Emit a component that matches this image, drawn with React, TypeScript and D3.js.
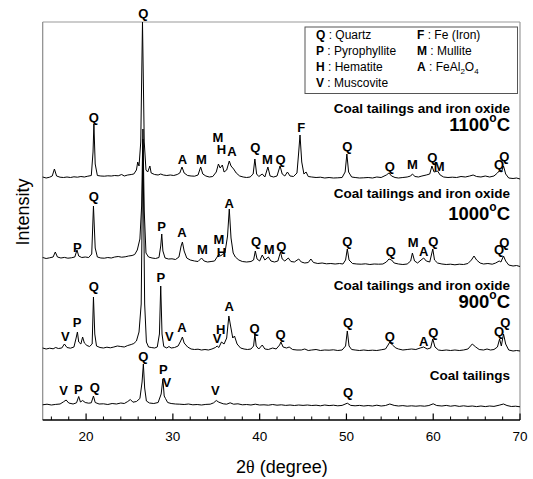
import React from "react";
import * as d3 from "d3";

// XRD patterns, [2theta (deg), intensity (a.u.)]
const coalTailings: [number, number][] = [
  [15.0, 152], [15.5, 158], [16.0, 150], [16.5, 156], [17.0, 160], [17.4, 182], [17.7, 200], [18.0, 170],
  [18.5, 160], [18.9, 172], [19.15, 235], [19.35, 180], [19.6, 195], [19.9, 175], [20.3, 168], [20.6, 172],
  [20.85, 240], [21.05, 175], [21.5, 160], [22.0, 162], [22.5, 155], [23.0, 165], [23.5, 160], [24.0, 170],
  [24.4, 165], [24.8, 185], [25.1, 205], [25.4, 178], [25.8, 185], [26.2, 215], [26.45, 380], [26.6, 560],
  [26.75, 320], [26.95, 190], [27.3, 170], [27.8, 165], [28.3, 175], [28.65, 260], [28.85, 410], [29.0, 240],
  [29.15, 215], [29.4, 175], [29.8, 165], [30.3, 160], [30.8, 158], [31.3, 155], [31.8, 160], [32.3, 152],
  [32.8, 155], [33.3, 150], [33.8, 156], [34.3, 158], [34.7, 172], [35.0, 195], [35.3, 178], [35.8, 162],
  [36.2, 158], [36.6, 172], [37.0, 158], [37.5, 162], [38.0, 152], [38.5, 155], [39.0, 150], [39.5, 158],
  [40.0, 150], [40.5, 152], [41.0, 148], [41.5, 155], [42.0, 148], [42.5, 152], [43.0, 146], [43.5, 150],
  [44.0, 145], [44.5, 150], [45.0, 146], [45.5, 150], [46.0, 145], [46.5, 148], [47.0, 142], [47.5, 150],
  [48.0, 144], [48.5, 148], [49.0, 142], [49.5, 146], [50.1, 168], [50.5, 146], [51.0, 142], [51.5, 146],
  [52.0, 140], [52.5, 145], [53.0, 140], [53.5, 148], [54.0, 140], [54.5, 145], [55.0, 160], [55.5, 146],
  [56.0, 140], [56.5, 144], [57.0, 138], [57.5, 142], [58.0, 138], [58.5, 142], [59.0, 138], [59.5, 145],
  [60.0, 162], [60.4, 145], [61.0, 140], [61.5, 146], [62.0, 138], [62.5, 144], [63.0, 136], [63.5, 142],
  [64.0, 136], [64.5, 140], [65.0, 134], [65.5, 140], [66.0, 134], [66.5, 140], [67.0, 136], [67.6, 148],
  [68.1, 160], [68.5, 145], [69.0, 135], [69.5, 138], [70.0, 132],
];

const fired900: [number, number][] = [
  [15.0, 160], [15.4, 150], [15.8, 158], [16.2, 152], [16.5, 165], [16.8, 155], [17.2, 160], [17.5, 200],
  [17.8, 165], [18.2, 158], [18.6, 170], [18.85, 260], [19.0, 320], [19.15, 220], [19.4, 200], [19.6, 270],
  [19.8, 210], [20.1, 185], [20.4, 175], [20.7, 200], [20.85, 670], [21.0, 300], [21.2, 180], [21.6, 165],
  [22.0, 160], [22.4, 168], [22.8, 162], [23.2, 170], [23.6, 180], [24.0, 175], [24.4, 170], [24.8, 185],
  [25.2, 195], [25.5, 205], [25.8, 230], [26.1, 320], [26.35, 600], [26.55, 2250], [26.75, 600], [26.95, 220],
  [27.2, 170], [27.5, 165], [27.9, 160], [28.2, 170], [28.45, 300], [28.6, 780], [28.75, 300], [28.95, 175],
  [29.3, 160], [29.55, 175], [29.8, 160], [30.2, 165], [30.6, 180], [30.9, 230], [31.1, 270], [31.3, 210],
  [31.7, 170], [32.1, 150], [32.5, 145], [32.9, 148], [33.3, 140], [33.7, 145], [34.1, 140], [34.5, 150],
  [34.9, 165], [35.1, 180], [35.3, 165], [35.6, 220], [35.9, 200], [36.2, 260], [36.45, 480], [36.65, 380],
  [36.9, 260], [37.1, 280], [37.4, 200], [37.8, 160], [38.2, 150], [38.6, 145], [39.0, 150], [39.3, 180],
  [39.45, 300], [39.6, 180], [39.9, 150], [40.3, 190], [40.6, 150], [41.0, 145], [41.5, 160], [41.9, 150],
  [42.3, 190], [42.45, 220], [42.7, 170], [43.1, 160], [43.4, 170], [43.8, 145], [44.3, 140], [44.8, 140],
  [45.2, 150], [45.6, 135], [46.0, 140], [46.5, 145], [47.0, 135], [47.5, 140], [48.0, 138], [48.5, 142],
  [49.0, 135], [49.5, 140], [49.9, 180], [50.1, 330], [50.3, 180], [50.6, 145], [51.0, 140], [51.5, 135],
  [52.0, 140], [52.5, 135], [53.0, 138], [53.5, 135], [54.0, 142], [54.5, 150], [54.8, 190], [55.0, 220],
  [55.3, 190], [55.7, 160], [56.0, 150], [56.5, 140], [57.0, 145], [57.5, 150], [58.0, 145], [58.5, 160],
  [58.9, 170], [59.3, 150], [59.7, 160], [59.95, 250], [60.2, 170], [60.6, 140], [61.0, 135], [61.5, 140],
  [62.0, 135], [62.5, 140], [63.0, 135], [63.5, 140], [64.0, 150], [64.5, 200], [64.9, 170], [65.3, 145],
  [65.8, 140], [66.2, 150], [66.6, 140], [67.0, 145], [67.4, 170], [67.65, 250], [67.85, 180], [68.1, 300],
  [68.35, 200], [68.7, 140], [69.2, 130], [69.6, 135], [70.0, 130],
];

const fired1000: [number, number][] = [
  [15.0, 185], [15.4, 175], [15.8, 182], [16.2, 190], [16.45, 240], [16.7, 190], [17.1, 180], [17.5, 186],
  [17.9, 178], [18.3, 182], [18.7, 190], [18.95, 260], [19.15, 200], [19.5, 185], [19.9, 190], [20.3, 185],
  [20.65, 220], [20.85, 700], [21.05, 280], [21.3, 190], [21.7, 180], [22.1, 178], [22.5, 185], [22.9, 180],
  [23.3, 190], [23.7, 195], [24.1, 188], [24.5, 192], [24.9, 200], [25.3, 205], [25.6, 215], [25.9, 260],
  [26.2, 370], [26.4, 700], [26.55, 1470], [26.7, 650], [26.9, 230], [27.2, 190], [27.6, 180], [28.0, 175],
  [28.4, 185], [28.6, 300], [28.72, 420], [28.85, 250], [29.1, 180], [29.5, 170], [29.9, 172], [30.3, 165],
  [30.7, 190], [30.95, 300], [31.1, 340], [31.3, 250], [31.6, 180], [32.0, 160], [32.5, 150], [32.9, 145],
  [33.3, 180], [33.6, 150], [34.0, 140], [34.4, 145], [34.8, 150], [35.1, 190], [35.3, 220], [35.5, 200],
  [35.7, 215], [36.0, 230], [36.3, 400], [36.5, 670], [36.7, 380], [36.95, 230], [37.2, 190], [37.6, 160],
  [38.0, 145], [38.5, 140], [39.0, 145], [39.3, 160], [39.5, 250], [39.7, 170], [40.0, 150], [40.3, 210],
  [40.6, 160], [41.0, 190], [41.3, 150], [41.7, 140], [42.1, 150], [42.4, 240], [42.6, 170], [42.9, 150],
  [43.3, 180], [43.6, 145], [44.0, 140], [44.5, 170], [44.8, 140], [45.2, 130], [45.6, 135], [45.9, 170],
  [46.2, 135], [46.7, 125], [47.2, 130], [47.7, 122], [48.2, 125], [48.7, 120], [49.2, 125], [49.6, 120],
  [49.9, 160], [50.1, 270], [50.3, 160], [50.7, 125], [51.2, 120], [51.7, 118], [52.2, 122], [52.7, 115],
  [53.2, 120], [53.7, 118], [54.2, 120], [54.6, 140], [54.9, 170], [55.2, 160], [55.5, 130], [56.0, 120],
  [56.5, 115], [57.0, 120], [57.4, 150], [57.6, 230], [57.85, 150], [58.2, 130], [58.6, 160], [58.9, 180],
  [59.2, 150], [59.6, 140], [59.95, 270], [60.15, 160], [60.5, 130], [61.0, 120], [61.5, 115], [62.0, 118],
  [62.5, 112], [63.0, 118], [63.5, 115], [64.0, 125], [64.4, 160], [64.7, 200], [65.0, 160], [65.4, 130],
  [65.8, 120], [66.3, 125], [66.8, 118], [67.2, 130], [67.6, 150], [67.8, 140], [68.1, 200], [68.35, 150],
  [68.7, 110], [69.2, 100], [69.6, 105], [70.0, 95],
];

const fired1100: [number, number][] = [
  [15.0, 150], [15.4, 140], [15.8, 148], [16.1, 160], [16.35, 230], [16.6, 160], [17.0, 148], [17.4, 145],
  [17.8, 150], [18.2, 145], [18.6, 152], [19.0, 148], [19.4, 155], [19.8, 150], [20.2, 158], [20.6, 165],
  [20.8, 400], [20.9, 680], [21.05, 280], [21.3, 165], [21.7, 160], [22.1, 158], [22.5, 162], [22.9, 160],
  [23.3, 165], [23.7, 162], [24.1, 175], [24.4, 160], [24.8, 170], [25.2, 175], [25.5, 180], [25.8, 220],
  [25.95, 300], [26.1, 260], [26.3, 500], [26.5, 1700], [26.7, 500], [26.9, 220], [27.1, 200], [27.35, 260],
  [27.5, 190], [27.9, 175], [28.3, 170], [28.6, 180], [28.9, 170], [29.3, 165], [29.7, 170], [30.1, 165],
  [30.5, 175], [30.8, 190], [31.05, 250], [31.3, 190], [31.7, 165], [32.1, 160], [32.5, 158], [32.9, 170],
  [33.2, 250], [33.45, 180], [33.8, 160], [34.2, 150], [34.6, 155], [35.0, 200], [35.25, 280], [35.45, 240],
  [35.7, 270], [35.9, 200], [36.2, 220], [36.5, 310], [36.7, 260], [37.0, 230], [37.3, 190], [37.7, 160],
  [38.1, 150], [38.5, 145], [38.9, 150], [39.25, 180], [39.45, 330], [39.65, 180], [39.9, 155], [40.3, 180],
  [40.6, 150], [40.95, 250], [41.2, 160], [41.6, 150], [42.0, 160], [42.35, 260], [42.6, 180], [42.9, 160],
  [43.2, 200], [43.5, 160], [43.9, 155], [44.3, 190], [44.5, 400], [44.65, 570], [44.85, 300], [45.1, 180],
  [45.35, 200], [45.6, 155], [46.0, 150], [46.5, 145], [47.0, 148], [47.5, 140], [48.0, 145], [48.5, 140],
  [49.0, 142], [49.5, 145], [49.85, 200], [50.05, 380], [50.25, 200], [50.6, 150], [51.0, 145], [51.5, 140],
  [52.0, 142], [52.5, 145], [53.0, 140], [53.5, 150], [54.0, 145], [54.6, 170], [54.9, 190], [55.2, 160],
  [55.6, 145], [56.0, 140], [56.5, 145], [57.0, 150], [57.4, 160], [57.6, 180], [57.9, 155], [58.3, 150],
  [58.7, 160], [59.2, 170], [59.6, 180], [59.85, 260], [60.1, 200], [60.5, 210], [60.8, 170], [61.2, 150],
  [61.7, 145], [62.2, 148], [62.7, 145], [63.2, 155], [63.7, 150], [64.2, 160], [64.6, 170], [65.0, 155],
  [65.5, 150], [66.0, 160], [66.5, 150], [67.0, 160], [67.4, 190], [67.6, 210], [67.85, 200], [68.1, 260],
  [68.35, 180], [68.7, 140], [69.2, 135], [69.6, 140], [70.0, 130],
];

// vertical stacking offset of each pattern (a.u.)
const traceOffsets = [0, 560, 1440, 2280];

// peak labels: [phase, 2theta, label height above offset]
const coalLabels: [string, number, number][] = [
  ["V", 17.4, 300], ["P", 19.1, 310], ["Q", 21.0, 330], ["Q", 26.6, 640], ["P", 28.9, 510],
  ["V", 29.3, 380], ["V", 34.9, 300], ["Q", 50.2, 280],
];
const labels900: [string, number, number][] = [
  ["V", 17.6, 280], ["P", 18.95, 420], ["Q", 20.9, 780], ["P", 28.6, 870], ["V", 29.6, 280],
  ["A", 31.05, 370], ["V", 35.1, 260], ["H", 35.5, 350], ["A", 36.5, 580], ["Q", 39.4, 360],
  ["Q", 42.4, 300], ["Q", 50.2, 420], ["Q", 55.0, 280], ["A", 58.9, 230], ["Q", 60.0, 320],
  ["Q", 67.6, 330], ["Q", 68.3, 420],
];
const labels1000: [string, number, number][] = [
  ["P", 19.0, 290], ["Q", 20.9, 800], ["P", 28.7, 500], ["A", 31.05, 440], ["M", 33.4, 270],
  ["M", 35.3, 370], ["H", 35.6, 240], ["A", 36.5, 730], ["Q", 39.6, 350], ["M", 41.1, 270],
  ["Q", 42.5, 300], ["Q", 50.1, 350], ["Q", 55.1, 250], ["M", 57.7, 340], ["A", 58.9, 250],
  ["Q", 60.0, 350], ["Q", 67.6, 270], ["Q", 68.2, 340],
];
const labels1100: [string, number, number][] = [
  ["Q", 20.9, 750], ["Q", 26.6, 1790], ["A", 31.1, 330], ["M", 33.3, 330], ["M", 35.2, 550],
  ["H", 35.6, 430], ["A", 36.8, 410], ["Q", 39.5, 450], ["M", 40.9, 330], ["Q", 42.4, 330],
  ["F", 44.8, 650], ["Q", 50.1, 460], ["Q", 55.0, 260], ["M", 57.6, 280], ["Q", 59.9, 350],
  ["M", 60.7, 260], ["Q", 67.6, 280], ["Q", 68.2, 360],
];

const sampleNames = ["Coal tailings", "Coal tailings and iron oxide", "Coal tailings and iron oxide", "Coal tailings and iron oxide"];
const sampleTemps = ["", "900", "1000", "1100"];

const majorTicks = [20, 30, 40, 50, 60, 70];

const legendLeft = [["Q", "Quartz"], ["P", "Pyrophyllite"], ["H", "Hematite"], ["V", "Muscovite"]];
const legendRight = [["F", "Fe (Iron)"], ["M", "Mullite"], ["A", "FeAl2O4"]];

const FONT = "Arial, 'Liberation Sans', Helvetica, sans-serif";

export default function App() {
  const width = 533;
  const height = 479;
  const plot = { left: 42.7, right: 520, top: 22, bottom: 420 };

  const x = d3.scaleLinear().domain([15, 70]).range([plot.left, plot.right]);
  const y = d3.scaleLinear().domain([0, 3980]).range([plot.bottom, plot.top]);

  const traces = [coalTailings, fired900, fired1000, fired1100];
  const peakLabels = [coalLabels, labels900, labels1000, labels1100];

  const minorTicks = d3.range(16, 70, 2).filter((d) => d % 10 !== 0);

  // where the sample names sit (baseline px)
  const nameY = [380, 290, 198, 113];
  const tempY = [0, 308, 220, 131];

  return (
    <svg width={width} height={height} style={{ position: "absolute", left: 0, top: 0, background: "#fff" }} fontFamily={FONT}>
      <rect width={width} height={height} fill="#fff" />

      {/* frame */}
      <line x1={plot.left} x2={plot.right} y1={plot.top} y2={plot.top} stroke="#9a9a9a" strokeWidth={1.2} />
      <line x1={plot.right} x2={plot.right} y1={plot.top} y2={plot.bottom} stroke="#9a9a9a" strokeWidth={1.2} />
      <line x1={plot.left} x2={plot.left} y1={plot.top} y2={plot.bottom} stroke="#8a8a8a" strokeWidth={1.2} />

      {/* patterns */}
      {traces.map((data, i) => {
        const line = d3
          .line<[number, number]>()
          .x((d) => x(d[0]))
          .y((d) => y(d[1] + traceOffsets[i]));
        return <path key={i} d={line(data) ?? ""} fill="none" stroke="#000" strokeWidth={1} strokeLinejoin="round" />;
      })}

      {/* peak labels */}
      {peakLabels.map((labels, i) =>
        labels.map(([t, pos, h], j) => (
          <text key={`${i}-${j}`} x={x(pos)} y={y(h + traceOffsets[i]) + 4.6} textAnchor="middle" fontSize={13} fontWeight="bold">
            {t}
          </text>
        ))
      )}

      {/* sample names */}
      {sampleNames.map((name, i) => (
        <g key={i}>
          <text x={510} y={nameY[i]} textAnchor="end" fontSize={13.5} fontWeight="bold">
            {name}
          </text>
          {sampleTemps[i] && (
            <text x={510} y={tempY[i]} textAnchor="end" fontSize={18.5} fontWeight="bold">
              {sampleTemps[i]}
              <tspan fontSize={12} dy={-9}>o</tspan>
              <tspan dy={9}>C</tspan>
            </text>
          )}
        </g>
      ))}

      {/* legend */}
      <rect x={305} y={27} width={212.5} height={66.5} fill="#fff" stroke="#555" strokeWidth={1} />
      {legendLeft.map(([k, v], i) => (
        <text key={k} x={316} y={38.5 + i * 16.3} fontSize={12}>
          <tspan fontWeight="bold">{k}</tspan> : {v}
        </text>
      ))}
      {legendRight.map(([k, v], i) => (
        <text key={k} x={417} y={38.5 + i * 16.3} fontSize={12}>
          <tspan fontWeight="bold">{k}</tspan> :{" "}
          {v === "FeAl2O4" ? (
            <>
              FeAl<tspan fontSize={8} dy={3}>2</tspan>
              <tspan dy={-3}>O</tspan>
              <tspan fontSize={8} dy={3}>4</tspan>
            </>
          ) : (
            v
          )}
        </text>
      ))}

      {/* x axis */}
      <line x1={plot.left} x2={plot.right} y1={plot.bottom} y2={plot.bottom} stroke="#000" strokeWidth={1.3} />
      {majorTicks.map((t) => (
        <g key={t}>
          <line x1={x(t)} x2={x(t)} y1={plot.bottom} y2={plot.bottom - 6.5} stroke="#000" strokeWidth={1.2} />
          <text x={x(t)} y={441} textAnchor="middle" fontSize={13.5}>
            {t}
          </text>
        </g>
      ))}
      {minorTicks.map((t) => (
        <line key={t} x1={x(t)} x2={x(t)} y1={plot.bottom} y2={plot.bottom - 3.5} stroke="#000" strokeWidth={1} />
      ))}

      <text x={(plot.left + plot.right) / 2 + 0.5} y={473} textAnchor="middle" fontSize={18}>
        2<tspan fontFamily="'Liberation Serif', 'DejaVu Serif', serif">θ</tspan> (degree)
      </text>
      <text transform={`translate(29,212) rotate(-90)`} textAnchor="middle" fontSize={18}>
        Intensity
      </text>
    </svg>
  );
}
